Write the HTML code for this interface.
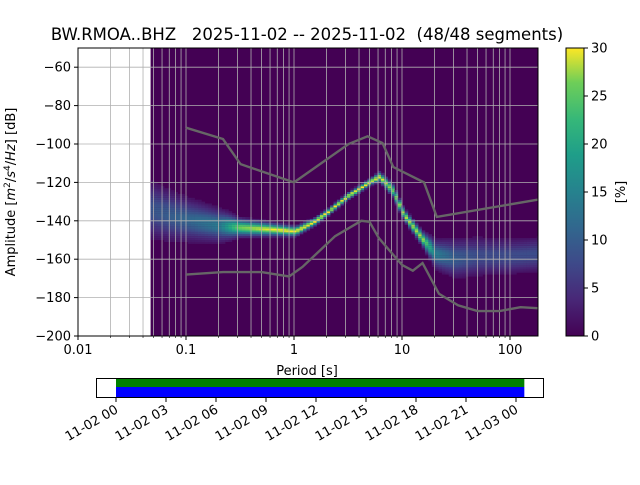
<!DOCTYPE html>
<html><head><meta charset="utf-8"><style>
body{margin:0;background:#fff;}
svg text{font-family:"DejaVu Sans","Liberation Sans",sans-serif;fill:#000;}
</style></head><body>
<svg id="fig" width="640" height="480" viewBox="0 0 640 480" xmlns="http://www.w3.org/2000/svg">
<defs>
<linearGradient id="vir" x1="0" y1="1" x2="0" y2="0">
<stop offset="0" stop-color="#440154"/><stop offset="0.13" stop-color="#482878"/><stop offset="0.25" stop-color="#3e4989"/><stop offset="0.38" stop-color="#31688e"/><stop offset="0.5" stop-color="#26828e"/><stop offset="0.63" stop-color="#1f9e89"/><stop offset="0.75" stop-color="#35b779"/><stop offset="0.88" stop-color="#6ece58"/><stop offset="1" stop-color="#fde725"/>
</linearGradient>
<clipPath id="clip"><rect x="78" y="48" width="460" height="288"/></clipPath>
</defs>
<text x="307" y="40" font-size="16.5" text-anchor="middle" xml:space="preserve">BW.RMOA..BHZ   2025-11-02 -- 2025-11-02  (48/48 segments)</text>
<g id="heat" clip-path="url(#clip)"></g>
<g id="grid" clip-path="url(#clip)"></g>
<g id="models" clip-path="url(#clip)"></g>
<rect x="78" y="48" width="460" height="288" fill="none" stroke="#000" stroke-width="1"/>
<g id="axes"></g>
<text x="307" y="375" font-size="13" text-anchor="middle">Period [s]</text>
<text transform="translate(15,192) rotate(-90)" font-size="13" text-anchor="middle">Amplitude [<tspan font-style="italic">m</tspan><tspan font-size="9" dy="-5">2</tspan><tspan dy="5">/</tspan><tspan font-style="italic">s</tspan><tspan font-size="9" dy="-5">4</tspan><tspan dy="5">/</tspan><tspan font-style="italic">Hz</tspan>] [dB]</text>
<rect x="566" y="48" width="18" height="288" fill="url(#vir)" stroke="#000" stroke-width="1"/>
<g id="cbar"></g>
<text transform="translate(625,192) rotate(-90)" font-size="13" text-anchor="middle">[%]</text>
<g id="timeline"></g>
</svg>
<script>
const NS="http://www.w3.org/2000/svg";
// ---- data ----
const xTicks=[0.01,0.1,1,10,100];
const xTickLabels=["0.01","0.1","1","10","100"];
const yTicks=[-60,-80,-100,-120,-140,-160,-180,-200];
const cTicks=[0,5,10,15,20,25,30];
const modePeriods=[0.047,0.07,0.1,0.2,0.3,0.6,1.0,1.5,2,3,5,6,8,10,15,20,30,50,100,180];
const modeDb=[-135,-138,-140,-143,-144,-145,-146,-141,-136,-128,-120,-117.5,-125,-137,-150,-158,-160,-159,-159,-158];
const spreadDb=[8,7,6,4.5,2.5,1.8,1.4,1.1,1,1,1,1.4,1.8,1.6,2,4,5.5,5.5,5,5];
const peakPct=[9,10,11,14,26,30,30,30,30,30,30,30,26,28,28,14,10,8,8,8];
const nhnmP=[0.1,0.22,0.32,1.0,3.2,4.8,6.6,8.3,16,21,180];
const nhnmDb=[-91.5,-97.4,-110.5,-120,-100,-96,-99.5,-112,-120,-138,-129];
const nlnmP=[0.1,0.22,0.5,0.9,1.2,2.4,4.2,5,6.1,10,12.6,15.5,22,33,50,80,125,180];
const nlnmDb=[-168,-166.7,-166.7,-169,-164,-148,-140,-140.5,-149,-163,-166,-162,-178,-184,-187,-187,-185,-185.5];
const tlTicks=["11-02 00","11-02 03","11-02 06","11-02 09","11-02 12","11-02 15","11-02 18","11-02 21","11-03 00"];
const tlHours=[0,3,6,9,12,15,18,21,24];
const coverageStartH=0, coverageEndH=24.5;
// ---- scales ----
const X=p=>78+108*(Math.log10(p)+2);
const Y=d=>48+(-50-d)*1.92;
const CY=v=>336-v*9.6;
const TX=h=>116+h*(50/3);
function el(tag,attrs,parent){const e=document.createElementNS(NS,tag);for(const k in attrs)e.setAttribute(k,attrs[k]);parent.appendChild(e);return e;}
const vir=[[68,1,84],[72,40,120],[62,73,137],[49,104,142],[38,130,142],[31,158,137],[53,183,121],[110,206,88],[253,231,37]];
function col(v){let t=Math.max(0,Math.min(1,v/30))*8;const i=Math.min(7,Math.floor(t)),f=t-i;const a=vir[i],b=vir[i+1];return `rgb(${a.map((c,k)=>Math.round(c+(b[k]-c)*f)).join(',')})`;}
function interp(xs,ys,x){const lx=Math.log10(x);for(let i=0;i<xs.length-1;i++){const a=Math.log10(xs[i]),b=Math.log10(xs[i+1]);if(lx>=a&&lx<=b){const f=(lx-a)/(b-a);return ys[i]+(ys[i+1]-ys[i])*f;}}return lx<Math.log10(xs[0])?ys[0]:ys[ys.length-1];}
// ---- heatmap ----
const heat=document.getElementById('heat');
const hb=el('rect',{x:X(0.047),y:48,width:538-X(0.047),height:288,fill:'#440154'},heat);


const lmin=Math.log10(0.047),lmax=Math.log10(190),nc=Math.ceil((X(190)-X(0.047))/3.4);
for(let c=0;c<nc;c++){
  const p=Math.pow(10,lmin+(lmax-lmin)*c/nc),p2=Math.pow(10,lmin+(lmax-lmin)*(c+1)/nc);
  const m=interp(modePeriods,modeDb,p),s=interp(modePeriods,spreadDb,p),pk=interp(modePeriods,peakPct,p);
  for(let d=Math.floor(m-3*s)-1;d<=Math.ceil(m+3*s)+1;d++){
    const z=(d-m)/s;const v=pk*Math.exp(-0.5*z*z);if(v<1.5)continue;
    const r=el('rect',{x:X(p).toFixed(1),y:Y(d+1).toFixed(1),width:(X(p2)-X(p)+0.3).toFixed(1),height:2.0,fill:col(v)},heat);
    
    
  }
}
// ---- grid ----
const grid=document.getElementById('grid');
for(let e=-2;e<=2;e++)for(let k=1;k<=9;k++){const p=k*Math.pow(10,e);if(p>190)continue;
  const g=el('line',{x1:X(p),x2:X(p),y1:48,y2:336,stroke:'#b0b0b0','stroke-width':0.8},grid);
  
  }
yTicks.forEach(v=>{const g=el('line',{x1:78,x2:538,y1:Y(v),y2:Y(v),stroke:'#b0b0b0','stroke-width':0.8},grid);
  
  });
// ---- noise models ----
const models=document.getElementById('models');
const hp=el('polyline',{points:nhnmP.map((p,i)=>X(p)+','+Y(nhnmDb[i])).join(' '),fill:'none',stroke:'#666','stroke-width':2.4},models);


const lp=el('polyline',{points:nlnmP.map((p,i)=>X(p)+','+Y(nlnmDb[i])).join(' '),fill:'none',stroke:'#666','stroke-width':2.4},models);


// ---- axes ----
const axes=document.getElementById('axes');
xTicks.forEach((p,i)=>{el('line',{x1:X(p),x2:X(p),y1:336,y2:340,stroke:'#000'},axes);
  const t=el('text',{x:X(p),y:354,'font-size':13,'text-anchor':'middle'},axes);t.textContent=xTickLabels[i];
  
  });
for(let e=-2;e<=2;e++)for(let k=2;k<=9;k++){const p=k*Math.pow(10,e);if(p>190)continue;el('line',{x1:X(p),x2:X(p),y1:336,y2:338,stroke:'#000','stroke-width':0.6},axes);}
yTicks.forEach(v=>{el('line',{x1:74,x2:78,y1:Y(v),y2:Y(v),stroke:'#000'},axes);
  const t=el('text',{x:71,y:Y(v)+4.5,'font-size':13,'text-anchor':'end'},axes);t.textContent='\u2212'+Math.abs(v);
  
  });
const cb=document.getElementById('cbar');
cTicks.forEach(v=>{el('line',{x1:584,x2:588,y1:CY(v),y2:CY(v),stroke:'#000'},cb);
  const t=el('text',{x:591,y:CY(v)+4.5,'font-size':13},cb);t.textContent=v;
  
  });
// ---- timeline ----
const tl=document.getElementById('timeline');
const g1=el('rect',{x:TX(coverageStartH),y:379,width:TX(coverageEndH)-TX(coverageStartH),height:8,fill:'#008000'},tl);


const b1=el('rect',{x:TX(coverageStartH),y:387,width:TX(coverageEndH)-TX(coverageStartH),height:10,fill:'#0000ff'},tl);


el('rect',{x:96.5,y:378.5,width:447,height:19,fill:'none',stroke:'#000'},tl);
tlHours.forEach((h,i)=>{el('line',{x1:TX(h),x2:TX(h),y1:398,y2:402,stroke:'#000'},tl);
  const t=el('text',{x:TX(h)+3,y:412,'font-size':13,'text-anchor':'end',transform:`rotate(-30 ${TX(h)+3} 412)`},tl);t.textContent=tlTicks[i];
  
  });
</script>
</body></html>
